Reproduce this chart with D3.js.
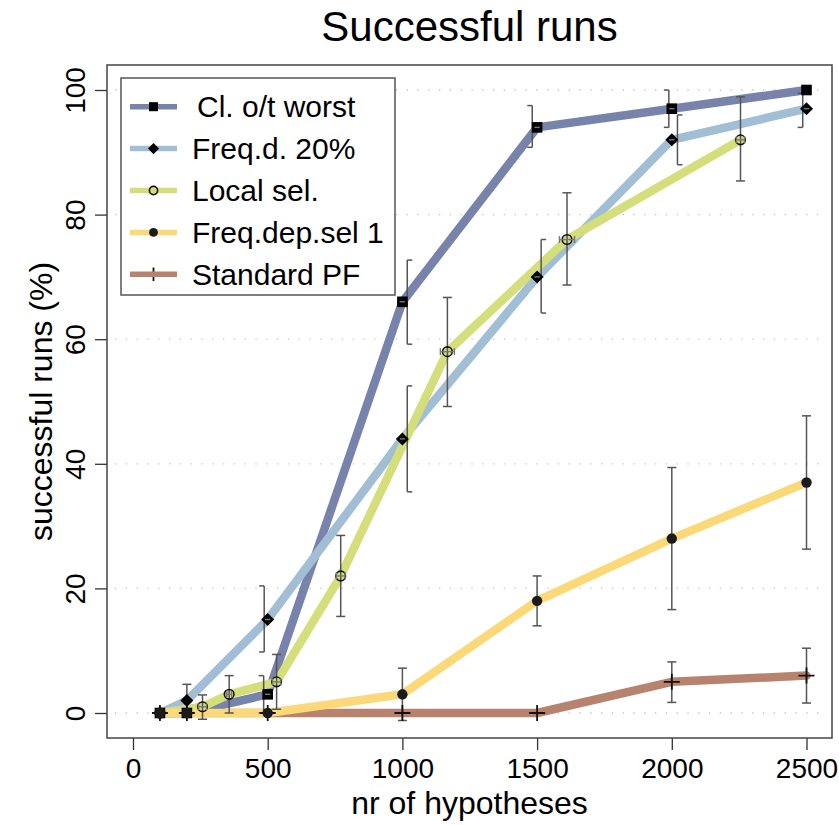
<!DOCTYPE html>
<html>
<head>
<meta charset="utf-8">
<script src="https://cdn.jsdelivr.net/npm/d3@7"></script>
<style>
  body { margin: 0; background: #fff; }
  text { font-family: "Liberation Sans", Arial, Helvetica, sans-serif; fill: #000; }
</style>
</head>
<body>
<svg id="chart" width="839" height="825"></svg>
<script>
// ---- data -----------------------------------------------------------
const seriesNames = ["Cl. o/t worst", "Freq.d. 20%", "Local sel.", "Freq.dep.sel 1", "Standard PF"];

// Cl. o/t worst
const clX    = [100, 200, 500, 1000, 1500, 2000, 2500];
const clY    = [0, 0, 3, 66, 94, 97, 100];
const clLo   = [0, 0, 0, 59.2, 90.8, 94, 100];
const clHi   = [0, 0, 6, 72.7, 97.5, 100, 100];
const clBarX = [100, 200, 485, 1018, 1482, 1989, 2500];
const clXErr = [0, 0, 10, 10, 10, 10, 0];

// Freq.d. 20%
const fdX    = [100, 200, 500, 1000, 1500, 2000, 2500];
const fdY    = [0, 2, 15, 44, 70, 92, 97];
const fdLo   = [0, -0.6, 9.8, 35.5, 64.2, 88, 94];
const fdHi   = [0, 4.6, 20.4, 52.5, 76, 96, 99.5];
const fdBarX = [100, 200, 487, 1018, 1515, 2021, 2486];
const fdXErr = [0, 0, 10, 10, 10, 10, 10];

// Local sel.
const lsX    = [100, 258, 357, 533, 771, 1167, 1611, 2255];
const lsY    = [0, 1, 3, 5, 22, 58, 76, 92];
const lsLo   = [0, -1, 0, 0.6, 15.5, 49.2, 68.7, 85.4];
const lsHi   = [0, 2.9, 6, 9.4, 28.5, 66.7, 83.5, 98.9];
const lsXErr = [0, 15, 9, 15, 16, 26, 28, 15];

// Freq.dep.sel 1
const fsX  = [100, 200, 500, 1000, 1500, 2000, 2500];
const fsY  = [0, 0, 0, 3, 18, 28, 37];
const fsLo = [0, 0, 0, -1.2, 14, 16.6, 26.3];
const fsHi = [0, 0, 0, 7.2, 22, 39.4, 47.7];

// Standard PF
const pfX  = [100, 200, 500, 1000, 1500, 2000, 2500];
const pfY  = [0, 0, 0, 0, 0, 5, 6];
const pfLo = [0, 0, 0, 0, 0, 1.7, 1.6];
const pfHi = [0, 0, 0, 0, 0, 8.2, 10.4];

const xTicks = [0, 500, 1000, 1500, 2000, 2500];
const yTicks = [0, 20, 40, 60, 80, 100];

const titleText = "Successful runs";
const xLabel = "nr of hypotheses";
const yLabel = "successful runs (%)";

// ---- series table ----------------------------------------------------
function build(xs, ys, lo, hi, barX, xErr) {
  return xs.map((x, i) => ({
    x, y: ys[i], lo: lo[i], hi: hi[i],
    bx: barX ? barX[i] : x,
    xe: xErr ? xErr[i] : 0
  }));
}
const series = [
  { name: seriesNames[0], color: "#7783aa", marker: "square",  capX: false, pts: build(clX, clY, clLo, clHi, clBarX, clXErr) },
  { name: seriesNames[1], color: "#a2bed5", marker: "diamond", capX: false, pts: build(fdX, fdY, fdLo, fdHi, fdBarX, fdXErr) },
  { name: seriesNames[2], color: "#d4de7b", marker: "circle",  capX: true,  pts: build(lsX, lsY, lsLo, lsHi, null, lsXErr) },
  { name: seriesNames[3], color: "#fbd978", marker: "dot",     capX: false, pts: build(fsX, fsY, fsLo, fsHi) },
  { name: seriesNames[4], color: "#b7836f", marker: "plus",    capX: false, pts: build(pfX, pfY, pfLo, pfHi) }
];
// stacking order of the thick lines (bottom first)
const drawOrder = [4, 0, 1, 2, 3];

// ---- layout -----------------------------------------------------------
const svg = d3.select("#chart");
const box = { left: 107, top: 65, right: 832, bottom: 738 };
const x = d3.scaleLinear().domain([0, 2500]).range([133, 806.5]);
const y = d3.scaleLinear().domain([0, 100]).range([713, 90]);

// dotted horizontal grid
svg.append("g").selectAll("line").data(yTicks).join("line")
  .attr("x1", box.left + 8).attr("x2", box.right - 6)
  .attr("y1", d => y(d)).attr("y2", d => y(d))
  .attr("stroke", "#c4c4c4").attr("stroke-width", 1.3)
  .attr("stroke-dasharray", "1.3 9.5");

// axes
const xAxis = svg.append("g").attr("transform", `translate(0,${box.bottom})`)
  .call(d3.axisBottom(x).tickValues(xTicks).tickSize(12).tickPadding(8).tickFormat(d3.format("d")));
xAxis.select(".domain").remove();
xAxis.selectAll(".tick line").attr("stroke", "#333").attr("stroke-width", 1.3);
xAxis.selectAll(".tick text").attr("font-size", 28).attr("fill", "#000")
  .attr("font-family", "'Liberation Sans', Arial, sans-serif");

const yAxis = svg.append("g").attr("transform", `translate(${box.left},0)`)
  .call(d3.axisLeft(y).tickValues(yTicks).tickSize(12).tickPadding(8));
yAxis.select(".domain").remove();
yAxis.selectAll(".tick line").attr("stroke", "#333").attr("stroke-width", 1.3);
yAxis.selectAll(".tick text").attr("font-size", 28).attr("fill", "#000")
  .attr("font-family", "'Liberation Sans', Arial, sans-serif")
  .attr("text-anchor", "middle").attr("dy", 0)
  .attr("transform", "rotate(-90) translate(0,-22)")
  .attr("x", 0).attr("y", 0);

// plot frame
svg.append("rect")
  .attr("x", box.left).attr("y", box.top)
  .attr("width", box.right - box.left).attr("height", box.bottom - box.top)
  .attr("fill", "none").attr("stroke", "#444").attr("stroke-width", 1.5);

// ---- series lines ------------------------------------------------------
const line = d3.line().x(d => x(d.x)).y(d => y(d.y));
const gLines = svg.append("g");
drawOrder.forEach(i => {
  gLines.append("path").datum(series[i].pts)
    .attr("d", line).attr("fill", "none")
    .attr("stroke", series[i].color).attr("stroke-width", 8.5)
    .attr("stroke-linejoin", "round").attr("stroke-linecap", "round");
});

// ---- vertical error bars ------------------------------------------------
const gErr = svg.append("g").attr("stroke", "#555").attr("stroke-width", 1.5).attr("fill", "none");
series.forEach(s => {
  s.pts.filter(p => p.hi !== p.lo).forEach(p => {
    const bx = x(p.bx), px = x(p.x);
    gErr.append("line").attr("x1", bx).attr("x2", bx).attr("y1", y(p.lo)).attr("y2", y(p.hi));
    let c1, c2;
    if (Math.abs(bx - px) > 1) {
      const dir = Math.sign(bx - px);
      c1 = bx; c2 = bx + dir * 5;
    } else { c1 = bx - 4.5; c2 = bx + 4.5; }
    [p.lo, p.hi].forEach(v => {
      gErr.append("line").attr("x1", c1).attr("x2", c2).attr("y1", y(v)).attr("y2", y(v));
    });
  });
});

// ---- markers -------------------------------------------------------------
function drawMarker(g, type, cx, cy, scale) {
  const k = scale || 1;
  if (type === "square") {
    g.append("rect").attr("x", cx - 5.3 * k).attr("y", cy - 5.3 * k)
      .attr("width", 10.6 * k).attr("height", 10.6 * k).attr("fill", "#000");
  } else if (type === "diamond") {
    const r = 6.5 * k;
    g.append("path").attr("d", `M${cx},${cy - r}L${cx + r},${cy}L${cx},${cy + r}L${cx - r},${cy}Z`).attr("fill", "#000");
  } else if (type === "circle") {
    g.append("circle").attr("cx", cx).attr("cy", cy).attr("r", 4.8 * k)
      .attr("fill", "none").attr("stroke", "#111").attr("stroke-width", 1.6);
  } else if (type === "dot") {
    g.append("circle").attr("cx", cx).attr("cy", cy).attr("r", 5.2 * k).attr("fill", "#1b1b1b");
  } else if (type === "plus") {
    g.append("path").attr("d", `M${cx - 8 * k},${cy}H${cx + 8 * k}M${cx},${cy - 8 * k}V${cy + 8 * k}`)
      .attr("stroke", "#111").attr("stroke-width", 1.8).attr("fill", "none");
  }
}
const gMarks = svg.append("g");
drawOrder.forEach(i => {
  const s = series[i];
  s.pts.forEach(p => drawMarker(gMarks, s.marker, x(p.x), y(p.y)));
});

// ---- horizontal error bars (spread of the number of hypotheses) -----------
const gXErr = svg.append("g").attr("stroke", "#777").attr("stroke-width", 1.4);
series.forEach(s => {
  s.pts.filter(p => p.xe > 0).forEach(p => {
    const x1 = x(p.x - p.xe), x2 = x(p.x + p.xe), py = y(p.y);
    gXErr.append("line").attr("x1", x1).attr("x2", x2).attr("y1", py).attr("y2", py);
    if (s.capX) {
      [x1, x2].forEach(cx => gXErr.append("line").attr("x1", cx).attr("x2", cx)
        .attr("y1", py - 3.5).attr("y2", py + 3.5));
    }
  });
});

// ---- legend ---------------------------------------------------------------
const leg = svg.append("g");
leg.append("rect").attr("x", 121).attr("y", 78).attr("width", 274).attr("height", 217)
  .attr("fill", "#fff").attr("stroke", "#555").attr("stroke-width", 1.5);
series.forEach((s, i) => {
  const ly = 106.7 + i * 41.9;
  const g = leg.append("g");
  if (s.marker === "plus") drawMarker(g, s.marker, 153.5, ly, 0.85);
  g.append("line").attr("x1", 130).attr("x2", 177).attr("y1", ly).attr("y2", ly)
    .attr("stroke", s.color).attr("stroke-width", 5.5);
  if (s.marker !== "plus") drawMarker(g, s.marker, 153.5, ly, 0.85);
  g.append("text").attr("x", i === 0 ? 197 : 192).attr("y", ly + 10.5)
    .attr("font-size", 30).text(s.name);
});

// ---- titles ---------------------------------------------------------------
svg.append("text").attr("x", (box.left + box.right) / 2).attr("y", 41)
  .attr("text-anchor", "middle").attr("font-size", 42).text(titleText);
svg.append("text").attr("x", (box.left + box.right) / 2).attr("y", 814)
  .attr("text-anchor", "middle").attr("font-size", 32).text(xLabel);
svg.append("text").attr("transform", `translate(52,${(box.top + box.bottom) / 2}) rotate(-90)`)
  .attr("text-anchor", "middle").attr("font-size", 32).text(yLabel);
</script>
</body>
</html>
